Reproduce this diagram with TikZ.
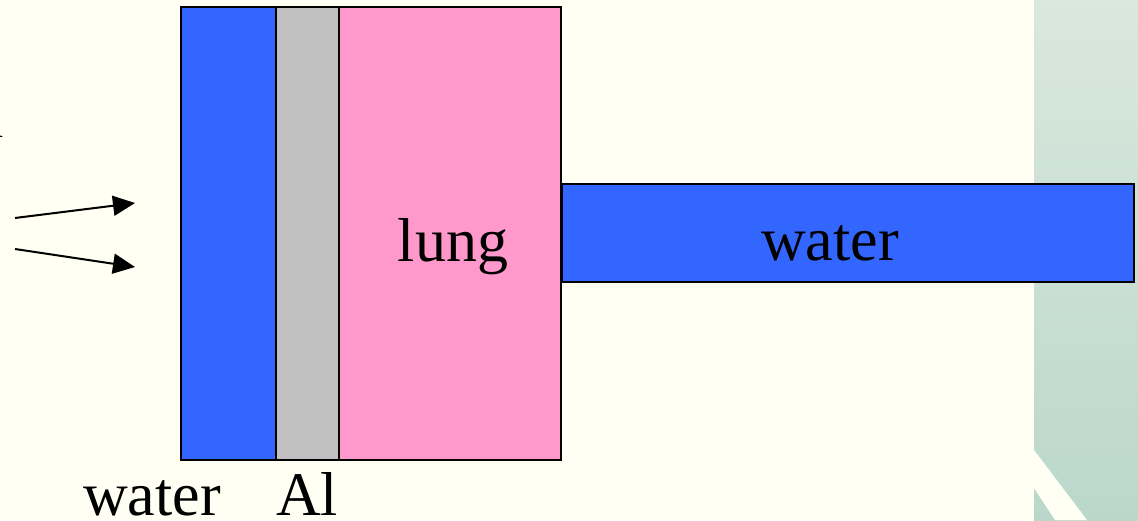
\documentclass[tikz,border=0pt]{standalone}
\usepackage{fontspec}
\setmainfont{Liberation Serif}
\usetikzlibrary{arrows.meta}
\definecolor{paper}{HTML}{FFFFF3}
\definecolor{waterblue}{HTML}{3366FF}
\definecolor{alugray}{HTML}{C0C0C0}
\definecolor{lungpink}{HTML}{FF99CC}
\definecolor{paneltop}{HTML}{DAE8DD}
\definecolor{panelbot}{HTML}{BBD7CB}
\tikzset{
  slab/.style={draw=black, line width=2pt, inner sep=0pt, outer sep=0pt},
  label/.style={inner sep=0pt, anchor=base, font=\fontsize{62}{62}\selectfont},
  beam/.style={line width=2pt, -{Triangle[length=22pt, width=20pt]}},
}
\begin{document}
\begin{tikzpicture}[x=1pt, y=-1pt]
  % page and side panel
  \fill[paper] (0,0) rectangle (1138,520);
  \useasboundingbox (0,0) rectangle (1138,520);
  \shade[top color=paneltop, bottom color=panelbot] (1034,0) rectangle (1138,520);
  \fill[paper] (1034,450) -- (1087,520) -- (1055,520) -- (1034,488) -- cycle;

  % layered phantom
  \node[slab, fill=waterblue, minimum width=95pt, minimum height=453pt] (wl) at (228.5,233.5) {};
  \node[slab, fill=alugray, minimum width=63pt, minimum height=453pt] (al) at (307.5,233.5) {};
  \node[slab, fill=lungpink, minimum width=222pt, minimum height=453pt] (lu) at (450,233.5) {};
  \node[slab, fill=waterblue, minimum width=572pt, minimum height=98pt] (wr) at (848,233) {};

  % labels
  \node[label] (tl) at (453,261) {lung};
  \node[label] (tw) at (830,260) {water};
  \node[label] (bw) at (152,515) {water};
  \node[label] (ba) at (307,515) {Al};
  \node[inner sep=0pt, anchor=base east, font=\fontsize{44}{44}\selectfont] (cut) at (4,137) {n};

  % incoming beam
  \coordinate (b1s) at (15,218);
  \coordinate (b1e) at (135,203);
  \coordinate (b2s) at (15,249);
  \coordinate (b2e) at (135,267);
  \draw[beam] (b1s) -- (b1e);
  \draw[beam] (b2s) -- (b2e);
\end{tikzpicture}
\end{document}
